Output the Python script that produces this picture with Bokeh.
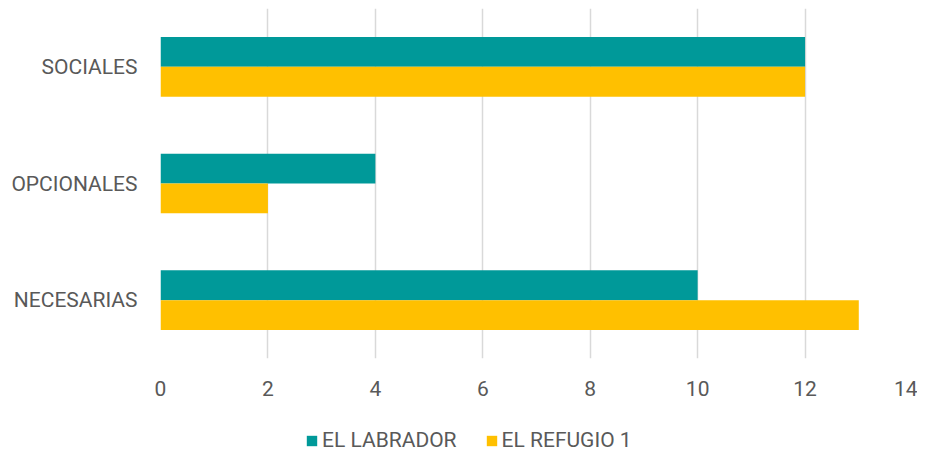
from bokeh.plotting import figure
from bokeh.layouts import column
from bokeh.models import ColumnDataSource, FactorRange, Legend, LegendItem, FixedTicker
from bokeh.transform import dodge
from bokeh.embed import file_html
from bokeh.resources import INLINE

categories = ["NECESARIAS", "OPCIONALES", "SOCIALES"]
el_labrador = [10, 4, 12]
el_refugio_1 = [13, 2, 12]
x_ticks = [0, 2, 4, 6, 8, 10, 12, 14]
series_names = ["EL LABRADOR", "EL REFUGIO 1"]
series_colors = ["#009999", "#FFC000"]

FONT = "Roboto"
TXT = "#595959"

src = ColumnDataSource(dict(cat=categories, a=el_labrador, b=el_refugio_1))

p = figure(frame_width=752, frame_height=350, output_backend="svg", toolbar_location=None,
           y_range=FactorRange(factors=categories), x_range=(0, 14),
           min_border_left=160, min_border_right=5, min_border_top=8, min_border_bottom=62)
p.outline_line_color = None

p.hbar(y=dodge("cat", 0.128, range=p.y_range), right="a", left=0, height=0.256,
       source=src, fill_color=series_colors[0], line_color=None)
p.hbar(y=dodge("cat", -0.128, range=p.y_range), right="b", left=0, height=0.256,
       source=src, fill_color=series_colors[1], line_color=None)

p.xaxis.ticker = FixedTicker(ticks=x_ticks)
p.xgrid.ticker = FixedTicker(ticks=x_ticks)
p.xgrid.grid_line_color = "#d9d9d9"
p.xgrid.grid_line_width = 1.5
p.ygrid.grid_line_color = None

for ax in (p.xaxis, p.yaxis):
    ax.axis_line_color = None
    ax.major_tick_line_color = None
    ax.minor_tick_line_color = None
    ax.major_tick_out = 0
    ax.major_tick_in = 0
    ax.minor_tick_out = 0
    ax.minor_tick_in = 0
    ax.major_label_text_font = FONT
    ax.major_label_text_font_size = "21px"
    ax.major_label_text_color = TXT
p.xaxis.major_label_standoff = 22
p.yaxis.major_label_standoff = 23

# legend strip below the chart (key renderers hidden; they only supply the swatches)
lg = figure(width=917, height=34, output_backend="svg", toolbar_location=None,
            x_range=(0, 1), y_range=(0, 1),
            min_border_left=0, min_border_right=0, min_border_top=0, min_border_bottom=0)
lg.axis.visible = False
lg.grid.visible = False
lg.outline_line_color = None
k1 = lg.hbar(y=0, right="a", left=0, height=0.256, source=src,
             fill_color=series_colors[0], line_color=None, visible=False)
k2 = lg.hbar(y=0, right="b", left=0, height=0.256, source=src,
             fill_color=series_colors[1], line_color=None, visible=False)

legend = Legend(items=[LegendItem(label=series_names[0], renderers=[k1]),
                       LegendItem(label=series_names[1], renderers=[k2])],
                orientation="horizontal", location=(145, 2),
                label_text_font=FONT, label_text_font_size="21px", label_text_color=TXT,
                glyph_width=13, glyph_height=13, spacing=28, label_standoff=4,
                border_line_color=None, background_fill_alpha=0, margin=0, padding=4)
lg.add_layout(legend, "center")

layout = column(p, lg, spacing=0)
open("out.html", "w").write(file_html(layout, INLINE))
